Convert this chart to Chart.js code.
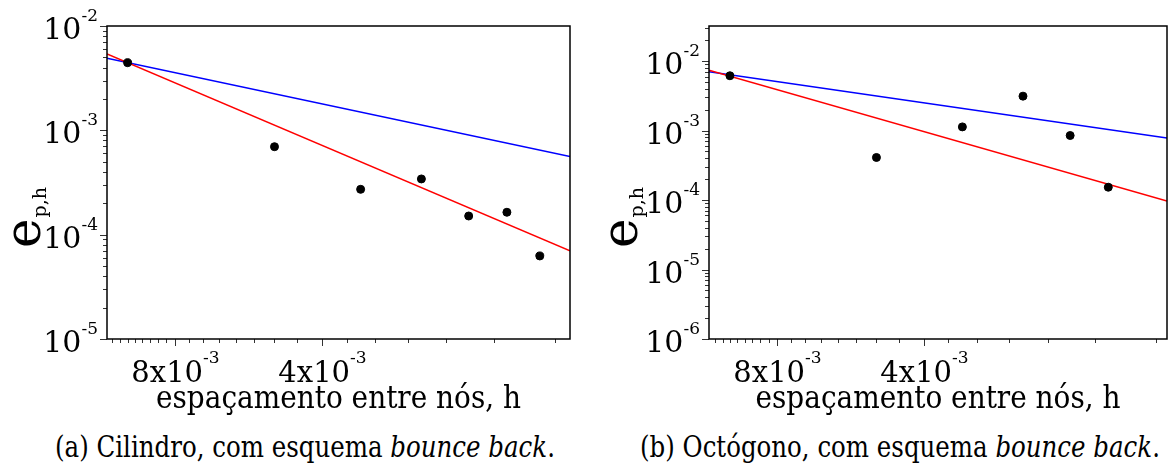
<!DOCTYPE html>
<html>
<head>
<meta charset="utf-8">
<script src="https://cdn.jsdelivr.net/npm/chart.js@4.4.1/dist/chart.umd.min.js"></script>
<style>
  html, body { margin: 0; padding: 0; background: #fff; }
  body { width: 1172px; height: 471px; overflow: hidden; position: relative;
         font-family: "DejaVu Serif", "Liberation Serif", serif; color: #000; }
  canvas { position: absolute; top: 0; }
  #grafA { left: 0; }
  #grafB { left: 590px; }
  .legenda { position: absolute; top: 433px; font-size: 29px; white-space: nowrap; line-height: 1;
             transform-origin: 0 0; }
  .legenda i { font-style: italic; }
</style>
</head>
<body>
<canvas id="grafA" width="590" height="420"></canvas>
<canvas id="grafB" width="582" height="420"></canvas>
<div class="legenda" data-centro="305" data-largura="500">(a) Cilindro, com esquema <i>bounce back</i>.</div>
<div class="legenda" data-centro="900" data-largura="520">(b) Octógono, com esquema <i>bounce back</i>.</div>
<script>
// Espaçamento entre nós (h) e erro e_{p,h} — cilindro
const hCilindro = [1.0e-2, 5.0e-3, 3.33e-3, 2.5e-3, 2.0e-3, 1.67e-3, 1.43e-3];
const eCilindro = [4.45e-3, 6.97e-4, 2.72e-4, 3.42e-4, 1.51e-4, 1.64e-4, 6.25e-5];
// Retas de referência (ordem 1 em azul, ordem 2 em vermelho) — cilindro
const hRetaCil = [1.102e-2, 1.24e-3];
const ordem1Cil = [4.9e-3, 5.6e-4];
const ordem2Cil = [5.4e-3, 7.0e-5];

// Octógono
const hOctogono = [1.0e-2, 5.0e-3, 3.33e-3, 2.5e-3, 2.0e-3, 1.67e-3];
const eOctogono = [6.15e-3, 4.10e-4, 1.13e-3, 3.13e-3, 8.49e-4, 1.53e-4];
const hRetaOct = [1.104e-2, 1.265e-3];
const ordem1Oct = [7.0e-3, 7.8e-4];
const ordem2Oct = [7.4e-3, 9.7e-5];

// Marcas do eixo h: rotuladas e secundárias
const hRotulos = [
  { valor: 8e-3, base: '8x10', exp: '-3' },
  { valor: 4e-3, base: '4x10', exp: '-3' }
];
const hMarcasMenores = [1.075e-2, 1.034e-2, 1.0e-2, 9.66e-3, 9.33e-3, 9.0e-3, 8.66e-3, 8.33e-3,
                        7.5e-3, 7.0e-3, 6.5e-3, 6.0e-3, 5.5e-3, 5.0e-3, 4.5e-3,
                        3.556e-3, 3.111e-3, 2.667e-3, 2.222e-3, 1.778e-3, 1.333e-3];

const tituloH = 'espaçamento entre nós, h';
const FONTE = '"DejaVu Serif", "Liberation Serif", serif';

function pares(xs, ys) { return xs.map((x, i) => ({ x, y: ys[i] })); }

function potencia(ctx, base, exp, x, linhaBase, alinh, grande, pequena, subida) {
  ctx.font = grande + 'px ' + FONTE;
  const wb = ctx.measureText(base).width;
  ctx.font = pequena + 'px ' + FONTE;
  const we = ctx.measureText(exp).width;
  const x0 = alinh === 'right' ? x - wb - we : alinh === 'center' ? x - (wb + we) / 2 : x;
  ctx.textAlign = 'left';
  ctx.textBaseline = 'alphabetic';
  ctx.font = grande + 'px ' + FONTE;
  ctx.fillText(base, x0, linhaBase);
  ctx.font = pequena + 'px ' + FONTE;
  ctx.fillText(exp, x0 + wb, linhaBase - subida);
}

// Moldura, marcas dos eixos e textos com expoentes
const moldura = {
  id: 'moldura',
  afterDraw(chart, args, op) {
    const { ctx, chartArea: a, scales: { x, y } } = chart;
    ctx.save();
    ctx.fillStyle = '#000';
    // marcas do eixo vertical (décadas e subdivisões)
    ctx.strokeStyle = '#333';
    ctx.lineWidth = 1;
    const e0 = Math.floor(Math.log10(y.min) + 1e-9), e1 = Math.ceil(Math.log10(y.max) - 1e-9);
    for (let e = e0; e <= e1; e++) {
      for (let k = 1; k <= 9; k++) {
        const v = k * Math.pow(10, e);
        if (v < y.min * 0.999 || v > y.max * 1.001) continue;
        const py = Math.round(y.getPixelForValue(v)) + 0.5;
        const len = k === 1 ? 7 : 4;
        ctx.beginPath(); ctx.moveTo(a.left - len, py); ctx.lineTo(a.left, py); ctx.stroke();
        if (k === 1) potencia(ctx, '10', String(e), a.left - 9, py + 12, 'right', 30, 17, 18);
      }
    }
    // marcas do eixo horizontal
    for (const v of hMarcasMenores) {
      const px = Math.round(x.getPixelForValue(v)) + 0.5;
      ctx.beginPath(); ctx.moveTo(px, a.bottom); ctx.lineTo(px, a.bottom + 4); ctx.stroke();
    }
    for (const r of hRotulos) {
      const px = Math.round(x.getPixelForValue(r.valor)) + 0.5;
      ctx.beginPath(); ctx.moveTo(px, a.bottom); ctx.lineTo(px, a.bottom + 7); ctx.stroke();
      potencia(ctx, r.base, r.exp, px, 382, 'center', 29, 17, 19);
    }
    // moldura da área de plotagem
    ctx.strokeStyle = '#000';
    ctx.lineWidth = 1.5;
    ctx.strokeRect(a.left, a.top, a.right - a.left, a.bottom - a.top);
    // título do eixo h, comprimido na horizontal para ocupar 365 px
    ctx.font = '32px ' + FONTE;
    const esc = 365 / ctx.measureText(tituloH).width;
    ctx.save();
    ctx.translate((a.left + a.right) / 2, 408);
    ctx.scale(esc, 1);
    ctx.textAlign = 'center';
    ctx.fillText(tituloH, 0, 0);
    ctx.restore();
    // título do eixo vertical: e_{p,h}
    ctx.save();
    ctx.translate(op.eixoX, 248);
    ctx.rotate(-Math.PI / 2);
    ctx.textAlign = 'left';
    ctx.font = '50px ' + FONTE;
    ctx.fillText('e', 0, 0);
    const we = ctx.measureText('e').width;
    ctx.font = '19px ' + FONTE;
    ctx.fillText('p,h', we + 1, 6);
    ctx.restore();
    ctx.restore();
  }
};

function grafico(id, hs, es, hReta, o1, o2, yMin, yMax, larguraY, direita, eixoX) {
  return new Chart(document.getElementById(id), {
    type: 'scatter',
    data: {
      datasets: [
        { data: pares(hs, es), backgroundColor: '#000', borderColor: '#000',
          pointRadius: 4, pointHoverRadius: 4, order: 0 },
        { data: pares(hReta, o2), showLine: true, borderColor: '#ff0000', borderWidth: 1.5,
          pointRadius: 0, order: 1 },
        { data: pares(hReta, o1), showLine: true, borderColor: '#0000ff', borderWidth: 1.5,
          pointRadius: 0, order: 2 }
      ]
    },
    options: {
      responsive: false, animation: false, events: [],
      layout: { padding: { top: 26, right: direita, left: 0, bottom: 0 } },
      plugins: { legend: { display: false }, tooltip: { enabled: false },
                 moldura: { eixoX } },
      scales: {
        x: { type: 'logarithmic', reverse: true, bounds: 'data',
             min: hReta[1], max: hReta[0],
             grid: { display: false }, border: { display: false },
             ticks: { display: false },
             afterFit(s) { s.height = 81; } },
        y: { type: 'logarithmic', bounds: 'data', min: yMin, max: yMax,
             grid: { display: false }, border: { display: false },
             ticks: { display: false },
             afterFit(s) { s.width = larguraY; } }
      }
    },
    plugins: [moldura]
  });
}

// Legendas: comprimidas na horizontal até a largura desejada e centradas sob cada painel
for (const el of document.querySelectorAll('.legenda')) {
  const alvo = +el.dataset.largura;
  const esc = alvo / el.offsetWidth;
  el.style.transform = 'scaleX(' + esc.toFixed(4) + ')';
  el.style.left = (+el.dataset.centro - alvo / 2) + 'px';
}

grafico('grafA', hCilindro, eCilindro, hRetaCil, ordem1Cil, ordem2Cil, 1e-5, 1e-2, 107, 20, 40);
grafico('grafB', hOctogono, eOctogono, hRetaOct, ordem1Oct, ordem2Oct, 1e-6, 3.2e-2, 119, 2, 47);
</script>
</body>
</html>
